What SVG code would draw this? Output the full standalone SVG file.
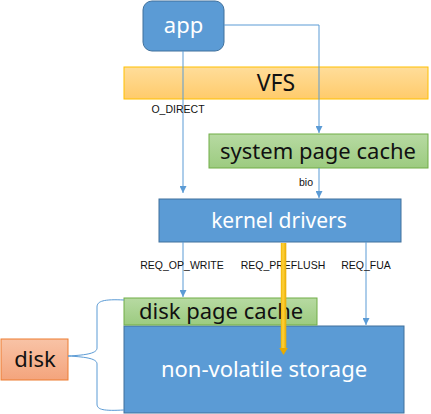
<svg xmlns="http://www.w3.org/2000/svg" width="431" height="414" viewBox="0 0 431 414">
<defs>
<style>
.blue{fill:#5B9BD5;stroke:#41719C;stroke-width:1}
.lbl{font-family:"Noto Sans","Open Sans",sans-serif;fill:#fff;text-anchor:middle}
.dark{font-family:"Noto Sans","Open Sans",sans-serif;fill:#111;text-anchor:middle}
.small{font-family:"Liberation Sans","Noto Sans",sans-serif;font-size:10.5px;fill:#111;text-anchor:middle}
.conn{fill:none;stroke:#5B9BD5;stroke-width:1}
</style>
<linearGradient id="gVFS" x1="0" y1="0" x2="0" y2="1"><stop offset="0" stop-color="#FFDD9A"/><stop offset="1" stop-color="#FFCB6B"/></linearGradient>
<linearGradient id="gGreen" x1="0" y1="0" x2="0" y2="1"><stop offset="0" stop-color="#B7DAA2"/><stop offset="1" stop-color="#9CCB80"/></linearGradient>
<linearGradient id="gDisk" x1="0" y1="0" x2="0" y2="1"><stop offset="0" stop-color="#F8C3A6"/><stop offset="1" stop-color="#F4A47C"/></linearGradient>
<linearGradient id="gYel" x1="0" y1="0" x2="1" y2="0"><stop offset="0" stop-color="#F0B400"/><stop offset="0.4" stop-color="#FFD23A"/><stop offset="1" stop-color="#E8AA00"/></linearGradient>
<marker id="arr" viewBox="0 0 10 10" refX="10" refY="5" markerWidth="7" markerHeight="7" markerUnits="userSpaceOnUse" orient="auto"><path d="M0,0 L10,5 L0,10 z" fill="#5B9BD5"/></marker>
</defs>

<g id="vfs"><rect x="124" y="67" width="304" height="32" fill="url(#gVFS)" stroke="#FFC000"/><text class="dark" x="276" y="91" font-size="23">VFS</text></g>
<g id="app"><rect x="143" y="1" width="81" height="50" rx="9" class="blue"/><text class="lbl" x="183.5" y="33" font-size="22">app</text></g>
<g id="system-page-cache"><rect x="209" y="134" width="219" height="34" fill="url(#gGreen)" stroke="#70AD47"/><text class="dark" x="318" y="159" font-size="22">system page cache</text></g>
<g id="kernel-drivers"><rect x="159" y="199" width="242" height="43" class="blue"/><text class="lbl" x="279" y="228" font-size="21">kernel drivers</text></g>
<g id="non-volatile-storage"><rect x="124" y="326" width="280" height="87" class="blue"/><text class="lbl" x="264" y="377" font-size="22">non-volatile storage</text></g>
<g id="disk-page-cache"><rect x="124" y="298" width="193" height="27" fill="url(#gGreen)" stroke="#70AD47"/><text class="dark" x="139" y="319" font-size="22" style="text-anchor:start">disk page cache</text></g>
<g id="disk"><rect x="1" y="339" width="67" height="41" fill="url(#gDisk)" stroke="#ED7D31"/><text class="dark" x="35" y="367" font-size="22">disk</text></g>

<g id="connectors">
<path class="conn" d="M183,51 L183,193" marker-end="url(#arr)"/>
<path class="conn" d="M224,25 L319,25 L319,133" marker-end="url(#arr)"/>
<path class="conn" d="M319,168 L319,198" marker-end="url(#arr)"/>
<path class="conn" d="M183,242 L183,297" marker-end="url(#arr)"/>
<path class="conn" d="M366,242 L366,325" marker-end="url(#arr)"/>
<path class="conn" d="M124,300 C104,299 97,301 97,307 L97,348 C97,353 88,355 68,356 C88,357 97,359 97,364 L97,404 C97,410 104,411 124,410"/>
<text class="small" x="178" y="113">O_DIRECT</text>
<text class="small" x="306" y="186">bio</text>
<text class="small" x="182" y="269">REQ_OP_WRITE</text>
<text class="small" x="283" y="269">REQ_PREFLUSH</text>
<text class="small" x="366" y="269">REQ_FUA</text>
<rect x="280.8" y="243" width="5.5" height="106" fill="url(#gYel)"/>
<path d="M279.3,348 L287.8,348 L283.5,355 z" fill="#E8AA00"/>
</g>
</svg>
